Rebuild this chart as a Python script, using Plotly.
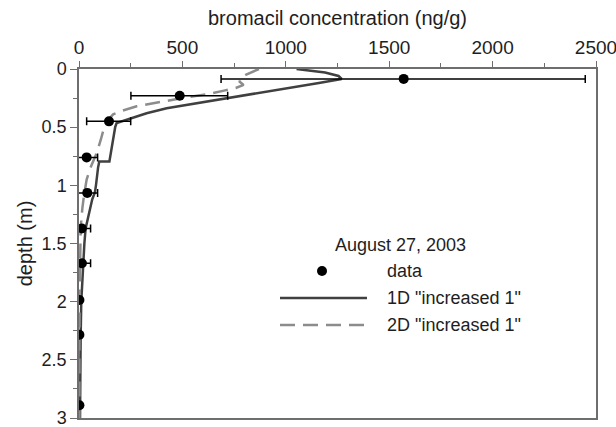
import plotly.graph_objects as go

# Measured bromacil profile (August 27, 2003)
data_depth = [0.085, 0.23, 0.45, 0.76, 1.065, 1.37, 1.67, 1.985, 2.285, 2.89]
data_conc = [1570, 487, 145, 37, 40, 13, 14, 2, 2, 2]
err_plus = [878, 232, 105, 53, 50, 43, 42, 0, 0, 0]
err_minus = [883, 236, 108, 53, 51, 40, 30, 0, 0, 0]

# 1D model, "increased 1"
d1_depth = [0.0, 0.03, 0.06, 0.086, 0.12, 0.17, 0.21, 0.25, 0.294, 0.337, 0.38, 0.42,
            0.45, 0.465, 0.5, 0.6, 0.72, 0.795, 0.796, 0.85, 1.0, 1.06, 1.12, 1.25,
            1.37, 1.5, 1.67, 2.0, 2.3, 2.6, 3.0]
d1_conc = [1052, 1190, 1255, 1270, 1160, 990, 850, 714, 585, 424, 327, 255,
           206, 182, 175, 165, 152, 147, 98, 92, 82, 77, 64, 47,
           32, 26, 21, 11, 8, 6, 5]

# 2D model, "increased 1"
d2_depth = [0.0, 0.05, 0.08, 0.11, 0.137, 0.163, 0.186, 0.214, 0.25, 0.294, 0.32,
            0.36, 0.39, 0.45, 0.5, 0.61, 0.72, 0.85, 0.95, 1.09, 1.2, 1.37, 1.6,
            2.0, 2.5, 3.0]
d2_conc = [870, 806, 780, 777, 796, 758, 701, 630, 500, 359, 279,
           206, 165, 135, 122, 105, 86, 55, 37, 24, 16, 8, 5,
           3, 2, 2]

legend_title = "August 27, 2003"
legend_labels = ["data", '1D "increased 1"', '2D "increased 1"']

FONT = "Liberation Sans, Arial, sans-serif"
AXIS_GRAY = "#6e6e6e"
TEXT = "#1e1e1e"

fig = go.Figure()

fig.add_trace(go.Scatter(
    x=d1_conc, y=d1_depth, mode="lines",
    line=dict(color="#404040", width=2.5),
    showlegend=False,
))
fig.add_trace(go.Scatter(
    x=d2_conc, y=d2_depth, mode="lines",
    line=dict(color="#8c8c8c", width=2.5, dash="15px,8px"),
    showlegend=False,
))
fig.add_trace(go.Scatter(
    x=data_conc, y=data_depth, mode="markers",
    marker=dict(color="black", size=10),
    error_x=dict(type="data", array=err_plus, arrayminus=err_minus,
                 color="black", thickness=1.5, width=4),
    showlegend=False,
))

# Plot area in pixels, used to place the hand-built legend
PLOT_L, PLOT_R, PLOT_T, PLOT_B = 79, 596, 69, 418
PW, PH = PLOT_R - PLOT_L, PLOT_B - PLOT_T


def px(x):
    return (x - PLOT_L) / PW


def py(y):
    return (PLOT_B - y) / PH


fig.add_annotation(x=px(400), y=py(245), xref="paper", yref="paper",
                   text=legend_title, showarrow=False,
                   font=dict(family=FONT, size=18, color=TEXT),
                   xanchor="center", yanchor="middle")
fig.add_shape(type="circle", xref="paper", yref="paper",
              x0=px(317), x1=px(327), y0=py(276), y1=py(266),
              fillcolor="black", line=dict(width=0))
fig.add_shape(type="line", xref="paper", yref="paper",
              x0=px(280), x1=px(367), y0=py(298), y1=py(298),
              line=dict(color="#404040", width=2.5))
fig.add_shape(type="line", xref="paper", yref="paper",
              x0=px(280), x1=px(367), y0=py(325), y1=py(325),
              line=dict(color="#8c8c8c", width=2.5, dash="15px,8px"))
for label, yy in zip(legend_labels, [271, 298, 325]):
    fig.add_annotation(x=px(385), y=py(yy), xref="paper", yref="paper",
                       text=label, showarrow=False,
                       font=dict(family=FONT, size=18, color=TEXT),
                       xanchor="left", yanchor="middle")

fig.update_xaxes(
    side="top", range=[0, 2500], dtick=500, tick0=0,
    automargin=False, ticklabeloverflow="allow",
    showline=True, mirror=True, linecolor=AXIS_GRAY, linewidth=1.5,
    ticks="outside", ticklen=6, tickcolor=AXIS_GRAY, tickwidth=1.2,
    minor=dict(dtick=250, ticks="outside", ticklen=4, tickcolor=AXIS_GRAY, tickwidth=1.2),
    showgrid=False, zeroline=False,
    tickfont=dict(family=FONT, size=19, color=TEXT),
    title=dict(text="bromacil concentration (ng/g)", standoff=6,
               font=dict(family=FONT, size=20, color=TEXT)),
)
fig.update_yaxes(
    range=[3, 0], dtick=0.5, tick0=0,
    automargin=False, ticklabeloverflow="allow",
    showline=True, mirror=True, linecolor=AXIS_GRAY, linewidth=1.5,
    ticks="outside", ticklen=7, tickcolor=AXIS_GRAY, tickwidth=1.2,
    minor=dict(dtick=0.25, ticks="outside", ticklen=4, tickcolor=AXIS_GRAY, tickwidth=1.2),
    showgrid=False, zeroline=False,
    tickfont=dict(family=FONT, size=18, color=TEXT),
    title=dict(text="depth (m)", standoff=4,
               font=dict(family=FONT, size=20, color=TEXT)),
)

fig.update_layout(
    width=616, height=427,
    margin=dict(l=PLOT_L, r=616 - PLOT_R, t=PLOT_T, b=427 - PLOT_B),
    paper_bgcolor="white", plot_bgcolor="white",
    showlegend=False,
)

fig.write_html("out.html")
